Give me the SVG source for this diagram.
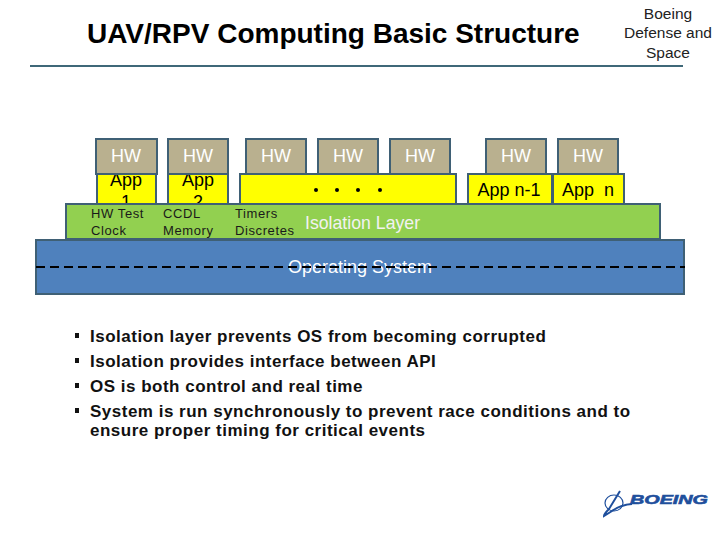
<svg xmlns="http://www.w3.org/2000/svg" width="720" height="540" viewBox="0 0 720 540">
<style>
text{font-family:"Liberation Sans",Arial,sans-serif}
.box{stroke:#3f6075;stroke-width:2}
.hw{fill:#b9b08f}
.app{fill:#ffff00}
.hwt{font-size:18px;fill:#fff;text-anchor:middle}
.appt{font-size:18px;fill:#000;text-anchor:middle}
.small{font-size:13px;fill:#1a1a1a;letter-spacing:.6px}
.bul{font-size:17px;fill:#111;font-weight:bold;letter-spacing:.5px}
.corner{font-size:15.5px;fill:#222;text-anchor:middle}
.dot{fill:#000}
</style>
<rect width="720" height="540" fill="#fff"/>
<g id="header">
<text x="87" y="43" font-size="28" font-weight="bold" fill="#000">UAV/RPV Computing Basic Structure</text>
<text class="corner" x="668" y="19">Boeing</text>
<text class="corner" x="668" y="38">Defense and</text>
<text class="corner" x="668" y="58">Space</text>
<rect x="30" y="65" width="653" height="2" fill="#3f6878"/>
</g>
<g id="app1"><rect class="box app" x="97" y="174" width="59" height="30"/><text class="appt" x="126" y="186">App</text><text class="appt" x="126" y="208">1</text></g>
<g id="app2"><rect class="box app" x="168" y="174" width="60" height="30"/><text class="appt" x="198" y="186">App</text><text class="appt" x="198" y="208">2</text></g>
<g id="app-middle"><rect class="box app" x="240" y="174" width="216" height="30"/>
<circle class="dot" cx="316" cy="190" r="2"/><circle class="dot" cx="337" cy="190" r="2"/><circle class="dot" cx="358" cy="190" r="2"/><circle class="dot" cx="380" cy="190" r="2"/></g>
<g id="app-n1"><rect class="box app" x="468" y="174" width="84" height="30"/><text class="appt" x="509" y="196">App n-1</text></g>
<g id="app-n"><rect class="box app" x="553" y="174" width="71" height="30"/><text class="appt" x="588" y="196" xml:space="preserve">App  n</text></g>
<g id="hw1"><rect class="box hw" x="96" y="139" width="61" height="35"/><text class="hwt" x="126" y="162">HW</text></g>
<g id="hw2"><rect class="box hw" x="168" y="139" width="60" height="35"/><text class="hwt" x="198" y="162">HW</text></g>
<g id="hw3"><rect class="box hw" x="246" y="139" width="60" height="35"/><text class="hwt" x="276" y="162">HW</text></g>
<g id="hw4"><rect class="box hw" x="318" y="139" width="60" height="35"/><text class="hwt" x="348" y="162">HW</text></g>
<g id="hw5"><rect class="box hw" x="390" y="139" width="60" height="35"/><text class="hwt" x="420" y="162">HW</text></g>
<g id="hw6"><rect class="box hw" x="486" y="139" width="60" height="35"/><text class="hwt" x="516" y="162">HW</text></g>
<g id="hw7"><rect class="box hw" x="558" y="139" width="60" height="35"/><text class="hwt" x="588" y="162">HW</text></g>
<g id="isolation-layer"><rect class="box" x="66" y="204" width="594" height="35" fill="#92d050"/>
<text class="small" x="91" y="218">HW Test</text><text class="small" x="91" y="235">Clock</text>
<text class="small" x="163" y="218">CCDL</text><text class="small" x="163" y="235">Memory</text>
<text class="small" x="235" y="218">Timers</text><text class="small" x="235" y="235">Discretes</text>
<text x="305" y="229" font-size="17.7" fill="#f2f2f2">Isolation Layer</text></g>
<g id="operating-system"><rect class="box" x="36" y="240" width="648" height="54" fill="#4f81bd"/>
<text x="360" y="273" font-size="18" fill="#fff" text-anchor="middle">Operating System</text></g>
<g id="connectors"><line x1="36" y1="267" x2="685" y2="267" stroke="#000" stroke-width="2" stroke-dasharray="9 5"/></g>
<g id="bullets">
<rect x="75" y="333" width="4" height="5" fill="#111"/><text class="bul" x="90" y="342">Isolation layer prevents OS from becoming corrupted</text>
<rect x="75" y="358" width="4" height="5" fill="#111"/><text class="bul" x="90" y="367">Isolation provides interface between API</text>
<rect x="75" y="383" width="4" height="5" fill="#111"/><text class="bul" x="90" y="392">OS is both control and real time</text>
<rect x="75" y="408" width="4" height="5" fill="#111"/><text class="bul" x="90" y="417">System is run synchronously to prevent race conditions and to</text>
<text class="bul" x="90" y="436">ensure proper timing for critical events</text>
</g>
<g id="logo" fill="none" stroke="#1f4f9c">
<ellipse cx="614" cy="503" rx="9" ry="8" stroke-width="1.2"/>
<path d="M620 491 L609 509 Q604 514 604 516 L612 511 Q620 505 632 504" stroke-width="2"/>
<text x="630" y="504" font-size="13.5" font-weight="900" font-style="italic" fill="#1f4f9c" stroke="#1f4f9c" stroke-width=".6" textLength="78" lengthAdjust="spacingAndGlyphs">BOEING</text>
</g>
</svg>
